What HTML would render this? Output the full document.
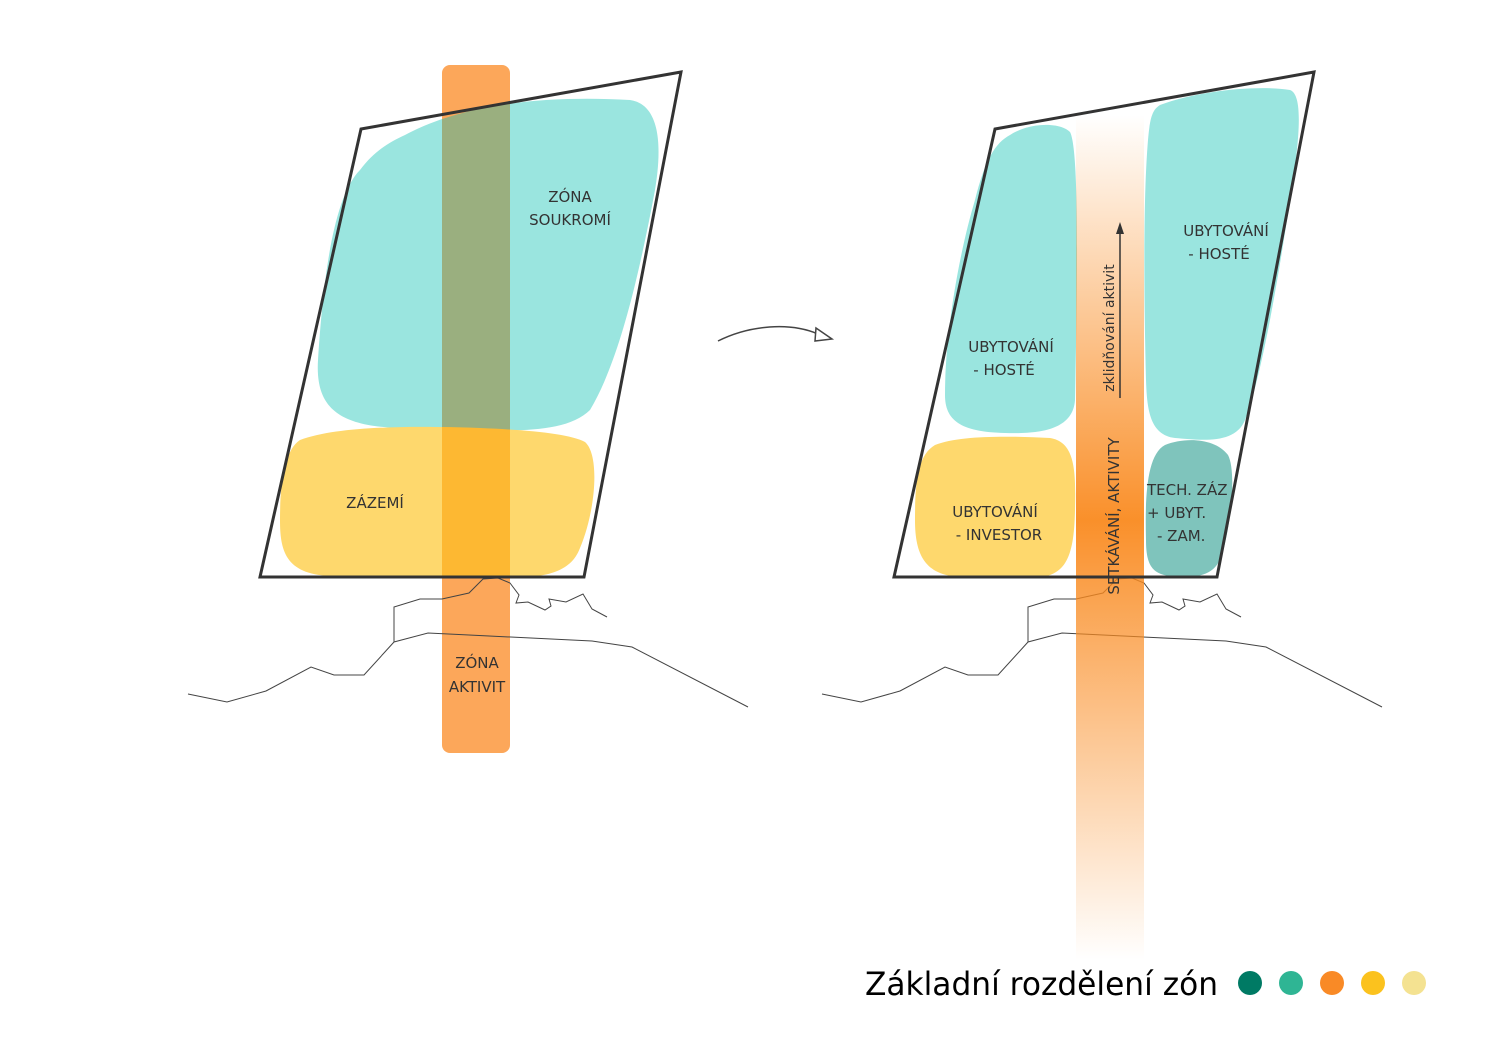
<!DOCTYPE html>
<html><head><meta charset="utf-8"><style>
html,body{margin:0;padding:0;background:#fff;}
svg{display:block;}
text{font-family:"DejaVu Sans","Liberation Sans",sans-serif;fill:#333;}
</style></head><body>
<svg width="1488" height="1052" viewBox="0 0 1488 1052" xmlns="http://www.w3.org/2000/svg">
<defs>
<linearGradient id="og" x1="0" y1="0" x2="0" y2="1">
<stop offset="0" stop-color="#f98a1f" stop-opacity="0"/>
<stop offset="0.48" stop-color="#f98a1f" stop-opacity="0.95"/>
<stop offset="1" stop-color="#f98a1f" stop-opacity="0"/>
</linearGradient>
<clipPath id="bar"><rect x="442" y="65" width="68" height="688"/></clipPath>
<path id="teal1" d="M405,135 C470,100 560,96 630,100 C665,105 660,160 655,190 C640,270 620,360 590,410 C560,440 480,428 420,428 C340,430 315,410 318,360 C322,300 330,200 360,170 C375,150 390,142 405,135 Z"/>
<path id="yel1" d="M300,440 C340,425 420,426 480,428 C530,430 570,434 585,442 C600,455 596,510 580,548 C570,575 540,578 500,578 L330,576 C285,574 280,550 280,520 C280,480 285,450 300,440 Z"/>
</defs>
<!-- LEFT -->
<use href="#teal1" fill="#9ae5df"/>
<use href="#yel1" fill="#fed86d"/>
<rect x="442" y="65" width="68" height="688" rx="8" fill="#fca75a"/>
<g clip-path="url(#bar)">
<use href="#teal1" fill="#9aaf7f"/>
<use href="#yel1" fill="#fdb832"/>
</g>
<g>
<path d="M188,694 L227,702 L266,691 L311,667 L334,675 L364,675 L394,642 L428,633 L592,641 L632,647 L748,707" fill="none" stroke="#444" stroke-width="1"/>
<path d="M394,642 L394,607 L420,599 L442,599 L469,593 L483,579 L498,578 L510,583 L519,595 L516,603 L528,602 L545,610 L551,606 L549,599 L566,602 L583,594 L592,609 L607,617" fill="none" stroke="#444" stroke-width="1"/>
</g>
<polygon points="361,129 681,72 584,577 260,577" fill="none" stroke="#333" stroke-width="3"/>
<text x="570" y="202" font-size="15" text-anchor="middle">ZÓNA</text>
<text x="570" y="225" font-size="15" text-anchor="middle">SOUKROMÍ</text>
<text x="375" y="508" font-size="15" text-anchor="middle">ZÁZEMÍ</text>
<text x="477" y="668" font-size="15" text-anchor="middle">ZÓNA</text>
<text x="477" y="692" font-size="15" text-anchor="middle">AKTIVIT</text>
<!-- arrow -->
<path d="M718,341 C750,325 790,322 818,334" fill="none" stroke="#444" stroke-width="1.5"/>
<polygon points="816,328 832,339 815,341" fill="#fff" stroke="#444" stroke-width="1.5"/>
<!-- RIGHT -->
<g transform="translate(634,0)">
<path d="M188,694 L227,702 L266,691 L311,667 L334,675 L364,675 L394,642 L428,633 L592,641 L632,647 L748,707" fill="none" stroke="#444" stroke-width="1"/>
<path d="M394,642 L394,607 L420,599 L442,599 L469,593 L483,579 L498,578 L510,583 L519,595 L516,603 L528,602 L545,610 L551,606 L549,599 L566,602 L583,594 L592,609 L607,617" fill="none" stroke="#444" stroke-width="1"/>
</g>
<path d="M1010,135 C1030,122 1060,122 1070,132 C1080,150 1077,300 1075,400 C1073,430 1040,434 1005,433 C960,432 945,420 945,395 C945,330 960,250 975,200 C985,160 995,143 1010,135 Z" fill="#9ae5df"/>
<path d="M1160,105 C1200,90 1260,85 1290,90 C1305,95 1298,150 1290,200 C1275,300 1260,380 1245,420 C1235,445 1200,440 1175,438 C1150,435 1147,410 1146,380 C1144,300 1143,200 1148,140 C1150,118 1152,110 1160,105 Z" fill="#9ae5df"/>
<path d="M935,445 C960,435 1010,436 1050,438 C1075,442 1076,470 1075,510 C1074,560 1065,578 1030,578 L960,577 C925,575 915,555 915,520 C915,480 918,455 935,445 Z" fill="#fed86d"/>
<path d="M1165,445 C1185,437 1215,438 1228,455 C1236,470 1232,520 1222,555 C1215,575 1200,577 1180,577 C1155,576 1146,570 1146,540 C1145,500 1146,455 1165,445 Z" fill="#7fc4bc"/>
<rect x="1076" y="115" width="68" height="845" fill="url(#og)"/>
<polygon points="995,129 1314,72 1217,577 894,577" fill="none" stroke="#333" stroke-width="3"/>
<text x="1226" y="236" font-size="15" text-anchor="middle">UBYTOVÁNÍ</text>
<text x="1219" y="259" font-size="15" text-anchor="middle">- HOSTÉ</text>
<text x="1011" y="352" font-size="15" text-anchor="middle">UBYTOVÁNÍ</text>
<text x="1004" y="375" font-size="15" text-anchor="middle">- HOSTÉ</text>
<text x="995" y="517" font-size="15" text-anchor="middle">UBYTOVÁNÍ</text>
<text x="999" y="540" font-size="15" text-anchor="middle">- INVESTOR</text>
<text x="1147" y="495" font-size="15">TECH. ZÁZ</text>
<text x="1147" y="518" font-size="15">+ UBYT.</text>
<text x="1157" y="541" font-size="15">- ZAM.</text>
<text transform="translate(1119,516) rotate(-90)" font-size="15" text-anchor="middle">SETKÁVÁNÍ, AKTIVITY</text>
<text transform="translate(1114,328) rotate(-90)" font-size="14" text-anchor="middle">zklidňování aktivit</text>
<line x1="1120" y1="398" x2="1120" y2="230" stroke="#333" stroke-width="1.5"/>
<polygon points="1116,234 1120,222 1124,234" fill="#333"/>
<!-- legend -->
<text x="865" y="995" font-size="32" textLength="353" lengthAdjust="spacingAndGlyphs" style="fill:#000">Základní rozdělení zón</text>
<circle cx="1250" cy="983" r="12" fill="#007a64"/>
<circle cx="1291" cy="983" r="12" fill="#2fb594"/>
<circle cx="1332" cy="983" r="12" fill="#f98a26"/>
<circle cx="1373" cy="983" r="12" fill="#fbc21e"/>
<circle cx="1414" cy="983" r="12" fill="#f4e291"/>
</svg>
</body></html>
